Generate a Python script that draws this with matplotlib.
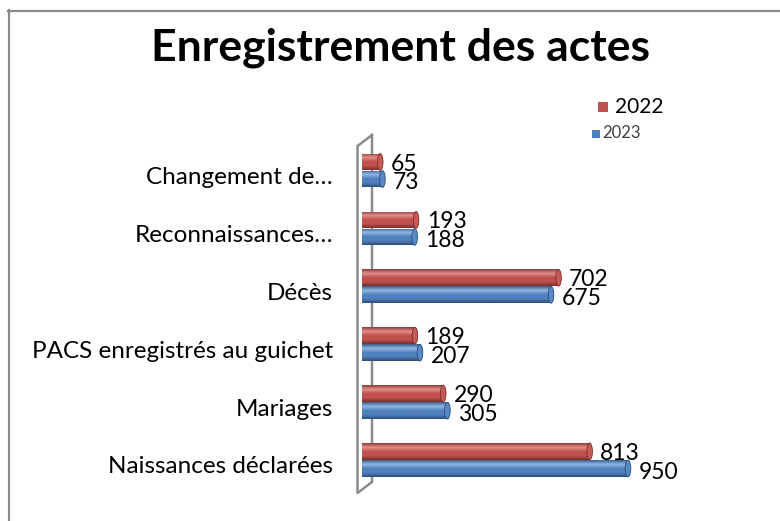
import numpy as np
import matplotlib.pyplot as plt
from matplotlib.colors import LinearSegmentedColormap
from matplotlib.patches import Ellipse, Rectangle
from matplotlib.lines import Line2D
from matplotlib.transforms import offset_copy

plt.rcParams['font.family'] = ['Lato', 'DejaVu Sans']

# Données
categories = ["Naissances déclarées", "Mariages", "PACS enregistrés au guichet",
              "Décès", "Reconnaissances…", "Changement de…"]
annees = ["2022", "2023"]
valeurs_2022 = [813, 290, 189, 702, 193, 65]
valeurs_2023 = [950, 305, 207, 675, 188, 73]

rouge = ["#8e3a37", "#c0504d", "#e3908d", "#c55a57", "#7a2f2d"]
bleu = ["#365f8f", "#4f81bd", "#95b7e3", "#5689c6", "#2c4d75"]

W, H = 780, 521
fig = plt.figure(figsize=(W / 100, H / 100), dpi=100)

# cadre
fig.add_artist(Line2D([8.5 / W, 8.5 / W], [0, 1 - 10 / H], transform=fig.transFigure,
                      color="#8a8a8a", lw=1.6))
fig.add_artist(Line2D([8 / W, 1], [1 - 10.5 / H, 1 - 10.5 / H], transform=fig.transFigure,
                      color="#8a8a8a", lw=1.6))

# axes placés en pixels
x0, x1 = 362, 362 + 280
ytop, ybot = 130, 500.5
ax = fig.add_axes([x0 / W, 1 - ybot / H, (x1 - x0) / W, (ybot - ytop) / H])
ax.set_facecolor("none")
for s in ax.spines.values():
    s.set_visible(False)

# paroi 3D
wall = "#8c8c8c"
pts = [(372, 135), (372, 482), (357.5, 493), (357.5, 146), (372, 135)]
fig.add_artist(Line2D([p[0] / W for p in pts], [1 - p[1] / H for p in pts],
                      transform=fig.transFigure, color=wall, lw=1.8, zorder=0))

pos = np.arange(len(categories))
h = 0.29
off = 0.147


def cylindre(y, vals, cols, dy):
    cmap = LinearSegmentedColormap.from_list("c", [cols[0], cols[2], cols[1], cols[1], cols[4]])
    bars = ax.barh(y, vals, height=h, color=cols[1], zorder=2)
    grad = np.linspace(0, 1, 64).reshape(-1, 1)
    for b, v, yy in zip(bars, vals, y):
        im = ax.imshow(grad, cmap=cmap, aspect="auto", zorder=3,
                       extent=(0, v, yy - h / 2, yy + h / 2), origin="upper")
        im.set_clip_path(b)
        ax.add_patch(Ellipse((v, yy), 20, h, facecolor=cols[3], edgecolor=cols[4],
                             lw=0.6, zorder=4))
        ax.text(v + 38, yy + dy, str(v), va="center_baseline", ha="left", fontsize=16.5, zorder=5)


cylindre(pos + off, valeurs_2022, rouge, 0.0)
cylindre(pos - off, valeurs_2023, bleu, -0.03)

ax.set_xlim(0, 1000)
ax.set_ylim(-0.7, len(categories) - 0.3)
ax.set_xticks([])
ax.set_yticks(pos)
ax.set_yticklabels(categories, fontsize=17.5)
ax.tick_params(axis="y", length=0, pad=21)
for lab in ax.get_yticklabels():
    lab.set_transform(offset_copy(lab.get_transform(), fig=fig, x=0, y=-5, units="dots"))

# titre
fig.text(401 / W, 1 - 48 / H, "Enregistrement des actes", ha="center", va="center",
         fontsize=32, fontweight="bold")

# légende
fig.add_artist(Rectangle((598 / W, 1 - 112 / H), 10 / W, 10 / H, transform=fig.transFigure,
                         facecolor="#c0504d", edgecolor="none"))
fig.text(615 / W, 1 - 107 / H, annees[0], va="center", fontsize=15)
fig.add_artist(Rectangle((592 / W, 1 - 138 / H), 8 / W, 8 / H, transform=fig.transFigure,
                         facecolor="#4f81bd", edgecolor="none"))
fig.text(602 / W, 1 - 133 / H, annees[1], va="center", fontsize=12, color="#404040")

fig.savefig("out.png", dpi=100)
